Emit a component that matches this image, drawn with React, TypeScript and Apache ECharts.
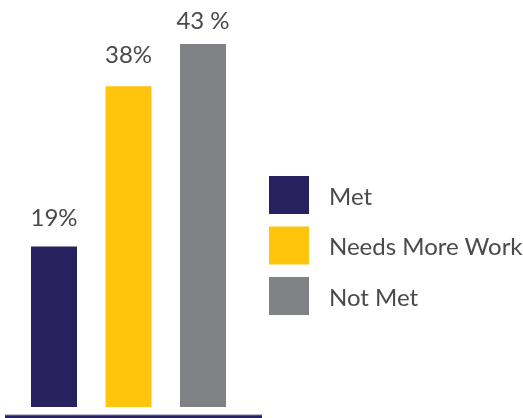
import React, { useEffect, useRef } from "react";
import * as echarts from "echarts";

const categories = ["Met", "Needs More Work", "Not Met"];
const values = [19, 38, 43];
const labels = ["19%", "38%", "43 %"];
const colors = ["#27225f", "#ffc40c", "#808184"];

export default function App() {
  const ref = useRef<HTMLDivElement>(null);
  useEffect(() => {
    const chart = echarts.init(ref.current!, null, { renderer: "svg" });
    const font = "Lato, 'Noto Sans', sans-serif";
    const labelDistance = [18, 21, 13];
    const series = categories.map((name, i) => ({
      name,
      type: "bar",
      barWidth: 46,
      barGap: "-100%",
      itemStyle: { color: colors[i] },
      label: {
        show: true,
        position: "top",
        distance: labelDistance[i],
        fontSize: 24,
        fontFamily: font,
        color: "#4a4a4a",
        formatter: () => labels[i],
      },
      data: values.map((v, j) => (j === i ? v : "-")),
    }));
    chart.setOption({
      animation: false,
      grid: { left: 16.75, width: 223.5, top: 44, bottom: 11 },
      xAxis: {
        type: "category",
        data: categories,
        show: false,
      },
      yAxis: { type: "value", min: 0, max: 43, show: false },
      legend: {
        orient: "vertical",
        left: 269,
        top: 176,
        padding: 0,
        itemWidth: 40,
        itemHeight: 38,
        itemGap: 12.5,
        icon: "rect",
        selectedMode: false,
        textStyle: {
          fontSize: 24,
          fontFamily: font,
          color: "#4a4a4a",
          padding: [0, 0, 0, 15],
        },
        data: categories,
      },
      graphic: [
        {
          type: "rect",
          shape: { x: 5, y: 415, width: 257, height: 3 },
          style: { fill: "#27225f" },
        },
        {
          type: "rect",
          shape: { x: 5, y: 414.5, width: 257, height: 1 },
          style: { fill: "#7c79a6" },
        },
      ],
      series,
    });
    return () => chart.dispose();
  }, []);
  return (
    <div
      ref={ref}
      style={{ position: "fixed", left: 0, top: 0, width: 523, height: 418 }}
    />
  );
}
